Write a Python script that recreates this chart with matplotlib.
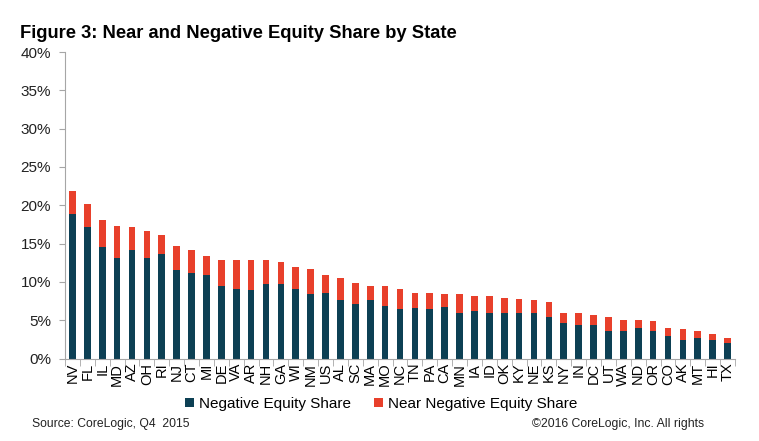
import matplotlib
matplotlib.use("Agg")
import matplotlib.pyplot as plt
import numpy as np
from matplotlib.ticker import FixedLocator, PercentFormatter

plt.rcParams["font.family"] = ["Liberation Sans", "DejaVu Sans"]

# ─── data (percent) ─────────────────────────
states = ["NV", "FL", "IL", "MD", "AZ", "OH", "RI", "NJ", "CT", "MI",
          "DE", "VA", "AR", "NH", "GA", "WI", "NM", "US", "AL", "SC",
          "MA", "MO", "NC", "TN", "PA", "CA", "MN", "IA", "ID", "OK",
          "KY", "NE", "KS", "NY", "IN", "DC", "UT", "WA", "ND", "OR",
          "CO", "AK", "MT", "HI", "TX"]
negative = [18.8, 17.1, 14.6, 13.1, 14.1, 13.1, 13.6, 11.6, 11.1, 10.9,
            9.4, 9.1, 8.9, 9.7, 9.7, 9.1, 8.4, 8.6, 7.6, 7.1,
            7.6, 6.9, 6.4, 6.6, 6.4, 6.7, 6.0, 6.2, 6.0, 5.9,
            5.9, 5.9, 5.4, 4.6, 4.4, 4.4, 3.6, 3.6, 4.0, 3.6,
            2.9, 2.4, 2.7, 2.4, 2.0]
total = [21.8, 20.1, 18.1, 17.3, 17.1, 16.6, 16.1, 14.7, 14.2, 13.4,
         12.9, 12.8, 12.9, 12.8, 12.6, 11.9, 11.7, 10.9, 10.5, 9.9,
         9.4, 9.4, 9.1, 8.6, 8.6, 8.4, 8.4, 8.1, 8.1, 7.9,
         7.7, 7.6, 7.4, 6.0, 5.9, 5.7, 5.4, 5.0, 5.0, 4.9,
         4.0, 3.9, 3.6, 3.2, 2.7]
near = [t - n for t, n in zip(total, negative)]
y_ticks = [0, 5, 10, 15, 20, 25, 30, 35, 40]

DARK = "#0d4054"
RED = "#e8402b"
GREY = "#a6a6a6"

fig = plt.figure(figsize=(7.59, 4.41), dpi=100)
ax = fig.add_axes([65 / 759, 1 - 358.5 / 441, 670 / 759, 306.5 / 441])

x = np.arange(len(states))
ax.bar(x, negative, width=0.45, color=DARK, label="Negative Equity Share")
ax.bar(x, near, width=0.45, bottom=negative, color=RED,
       label="Near Negative Equity Share")

ax.set_xlim(-0.5, len(states) - 0.5)
ax.set_ylim(0, 40)
ax.set_yticks(y_ticks)
ax.yaxis.set_major_formatter(PercentFormatter(decimals=0))
ax.set_xticks(x)
ax.set_xticklabels(states, rotation=90, fontsize=10.5)
ax.xaxis.set_minor_locator(FixedLocator(np.arange(-0.5, len(states), 1)))
ax.tick_params(axis="x", which="major", length=0, pad=3)
ax.tick_params(axis="x", which="minor", length=5, color=GREY, direction="out")
ax.tick_params(axis="y", length=4, color=GREY, labelsize=11, pad=6,
               labelcolor="#222222")

for side in ["top", "right"]:
    ax.spines[side].set_visible(False)
for side in ["left", "bottom"]:
    ax.spines[side].set_color(GREY)

fig.text(20 / 759, 1 - 33 / 441, "Figure 3: Near and Negative Equity Share by State",
         fontsize=13.2, fontweight="bold", va="center", ha="left")

fig.legend(loc="center", bbox_to_anchor=(381 / 759, 1 - 404 / 441), ncol=2,
           frameon=False, fontsize=11, handlelength=0.6, handleheight=0.6,
           handletextpad=0.3, columnspacing=1.5)

fig.text(32 / 759, 1 - 424 / 441, "Source: CoreLogic, Q4  2015",
         fontsize=8.7, va="center", ha="left", color="#222222")
fig.text(532 / 759, 1 - 424 / 441, "\u00a92016 CoreLogic, Inc. All rights",
         fontsize=8.8, va="center", ha="left", color="#222222")

fig.savefig("out.png", dpi=100)
